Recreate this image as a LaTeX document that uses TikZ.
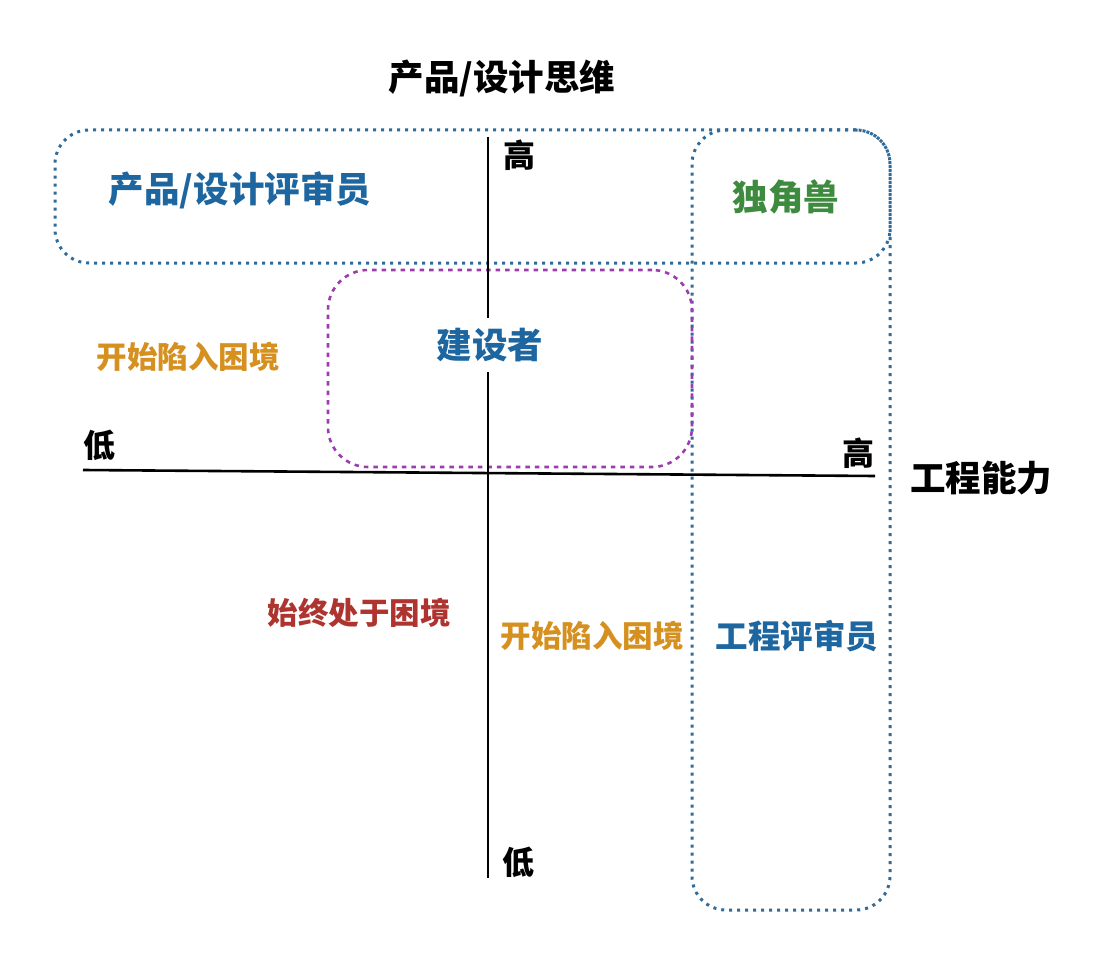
\documentclass[tikz,border=0pt]{standalone}
\usepackage{fontspec}
\setmainfont{Noto Sans CJK SC}
\definecolor{tblue}{HTML}{1E66A0}
\definecolor{bblue}{HTML}{2F6C9C}
\definecolor{tgreen}{HTML}{3E8A3E}
\definecolor{torange}{HTML}{D69020}
\definecolor{tred}{HTML}{AE3430}
\definecolor{bmag}{HTML}{9C3CAE}
\tikzset{
  lbl/.style={font=\fontsize{35.5}{40}\selectfont\bfseries, inner sep=0pt},
  lbls/.style={font=\fontsize{30.5}{36}\selectfont\bfseries, inner sep=0pt},
  tick/.style={font=\fontsize{32}{36}\selectfont\bfseries, inner sep=0pt},
  bluebox/.style={draw=bblue, line width=3pt, dash pattern=on 3pt off 5pt, rounded corners=34pt, inner sep=0pt},
  magbox/.style={draw=bmag, line width=2.6pt, dash pattern=on 4.5pt off 5pt, rounded corners=40pt, inner sep=0pt},
  axis/.style={draw=black, line width=2.6pt},
}
\begin{document}
\begin{tikzpicture}[x=1pt,y=-1pt]
\useasboundingbox[fill=white] (0,0) rectangle (1111,960);
% boxes
\node[bluebox, minimum width=835pt, minimum height=133pt] (topbox) at (472.5,196.5) {};
\node[bluebox, minimum width=198pt, minimum height=780pt] (rightbox) at (791,520) {};
\node[magbox, minimum width=364pt, minimum height=197pt] (builderbox) at (510,368.5) {};
% axes
\coordinate (ytop) at (488,137);
\coordinate (ybot) at (488,878);
\coordinate (xleft) at (83,470);
\coordinate (xright) at (875,476);
\draw[axis] (ytop) -- (ybot);
\draw[axis] (xleft) -- (xright);
% labels
\node[lbl] (ytitle) at (502,78) {产品/设计思维};
\node[tick] (yhigh) at (519,155) {高};
\node[tick] (ylow) at (518,862) {低};
\node[tick] (xlow) at (99,445) {低};
\node[tick] (xhigh) at (858,453) {高};
\node[lbl] (xtitle) at (981,478) {工程能力};
\node[lbl, text=tblue] (pd) at (240,190) {产品/设计评审员};
\node[lbl, text=tgreen] (unicorn) at (786,197) {独角兽};
\node[lbl, text=tblue, fill=white, inner xsep=4pt, inner ysep=10pt] (builder) at (490,345) {建设者};
\node[lbls, text=torange] (trapA) at (188,357) {开始陷入困境};
\node[lbls, text=tred] (trapC) at (359,613) {始终处于困境};
\node[lbls, text=torange] (trapB) at (592,636) {开始陷入困境};
\node[lbls, font=\fontsize{32.5}{38}\selectfont\bfseries, text=tblue] (eng) at (797,636) {工程评审员};
\end{tikzpicture}
\end{document}
